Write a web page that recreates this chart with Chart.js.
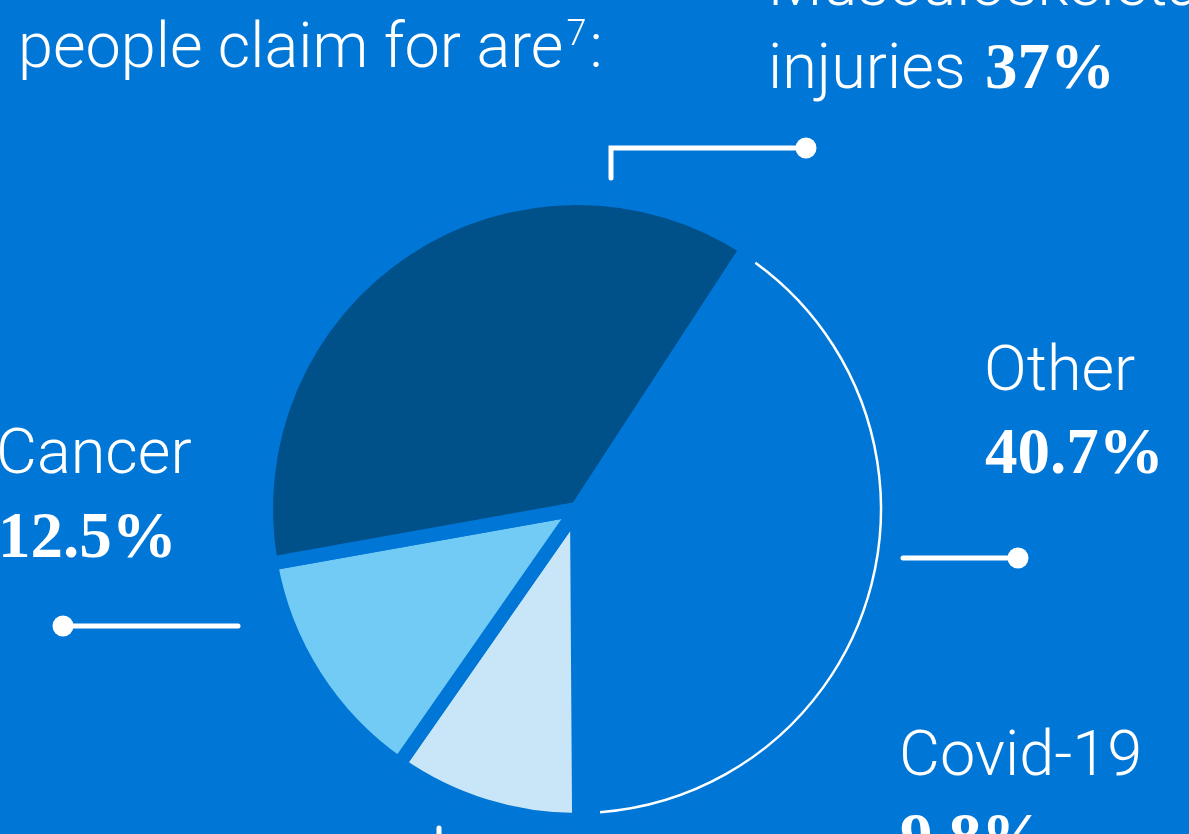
<!DOCTYPE html>
<html>
<head>
<meta charset="utf-8">
<script src="https://cdn.jsdelivr.net/npm/chart.js@4"></script>
<style>
  html, body { margin: 0; padding: 0; width: 1189px; height: 834px; overflow: hidden; background: #0076D6; }
  #wrap { position: absolute; left: 0; top: 0; width: 1189px; height: 834px; }
  .t { position: absolute; white-space: nowrap; color: #fff; line-height: 1; }
  .lbl { font-family: Roboto, sans-serif; font-weight: 300; font-size: 63px; }
  .num { font-family: "Liberation Serif", serif; font-weight: 700; font-size: 65px; }
  sup { font-size: 36px; vertical-align: top; position: relative; top: 1px; margin-left: 3px; margin-right: 3px; }
</style>
</head>
<body>
<div id="wrap"><canvas id="c" width="1189" height="834"></canvas></div>
<div class="t lbl" style="left:18px; top:14px;">people claim for are<sup>7</sup>:</div>
<div class="t lbl" style="left:768px; top:-48px;">Musculoskeletal</div>
<div class="t lbl" style="left:768px; top:35px;">injuries</div>
<div class="t num" style="left:985px; top:34px;">37%</div>
<div class="t lbl" style="left:984px; top:337px;">Other</div>
<div class="t num" style="left:985px; top:419px;">40.7%</div>
<div class="t lbl" style="left:-4px; top:420px;">Cancer</div>
<div class="t num" style="left:-2px; top:503px;">12.5%</div>
<div class="t lbl" style="left:899px; top:722px;">Covid-19</div>
<div class="t num" style="left:900px; top:804px;">9.8%</div>
<script>
const categories = ["Other", "Covid-19", "Cancer", "Musculoskeletal injuries"];
const shares = [40.7, 9.8, 12.5, 37];
const sliceColors = ["#0076D6", "#C8E6F8", "#72CBF4", "#00508A"];
const BG = "#0076D6";

const decorations = {
  id: "decorations",
  afterDatasetsDraw(chart) {
    const ctx = chart.ctx;
    const meta = chart.getDatasetMeta(0);
    const other = meta.data[0];
    const p = other.getProps(["x", "y", "startAngle", "endAngle", "outerRadius"], true);
    const bw = chart.data.datasets[0].borderWidth;
    const r = p.outerRadius - bw / 2;
    ctx.save();
    ctx.strokeStyle = "#fff";
    ctx.lineWidth = 2.5;
    ctx.beginPath();
    ctx.arc(p.x, p.y, r, p.startAngle + 15 / r, p.endAngle - 21 / r);
    ctx.stroke();

    // leader lines
    ctx.lineWidth = 5;
    ctx.lineCap = "round";
    ctx.lineJoin = "miter";
    const seg = (pts) => {
      ctx.beginPath();
      ctx.moveTo(pts[0][0], pts[0][1]);
      for (let i = 1; i < pts.length; i++) ctx.lineTo(pts[i][0], pts[i][1]);
      ctx.stroke();
    };
    const dot = (x, y) => { ctx.beginPath(); ctx.arc(x, y, 10.5, 0, Math.PI * 2); ctx.fillStyle = "#fff"; ctx.fill(); };
    seg([[611, 178], [611, 148], [806, 148]]); dot(806, 148);
    seg([[903, 558], [1018, 558]]); dot(1018, 558);
    seg([[63, 626], [238, 626]]); dot(63, 626);
    seg([[439, 828], [439, 850]]);
    ctx.restore();
  }
};

new Chart(document.getElementById("c"), {
  type: "pie",
  data: {
    labels: categories,
    datasets: [{
      data: shares,
      backgroundColor: sliceColors,
      borderColor: BG,
      borderWidth: 14,
      radius: 311
    }]
  },
  options: {
    responsive: false,
    animation: false,
    rotation: 33.1,
    layout: { padding: { left: 0, right: 35, top: 184, bottom: 0 } },
    plugins: { legend: { display: false }, tooltip: { enabled: false } },
    events: []
  },
  plugins: [decorations]
});
</script>
</body>
</html>
